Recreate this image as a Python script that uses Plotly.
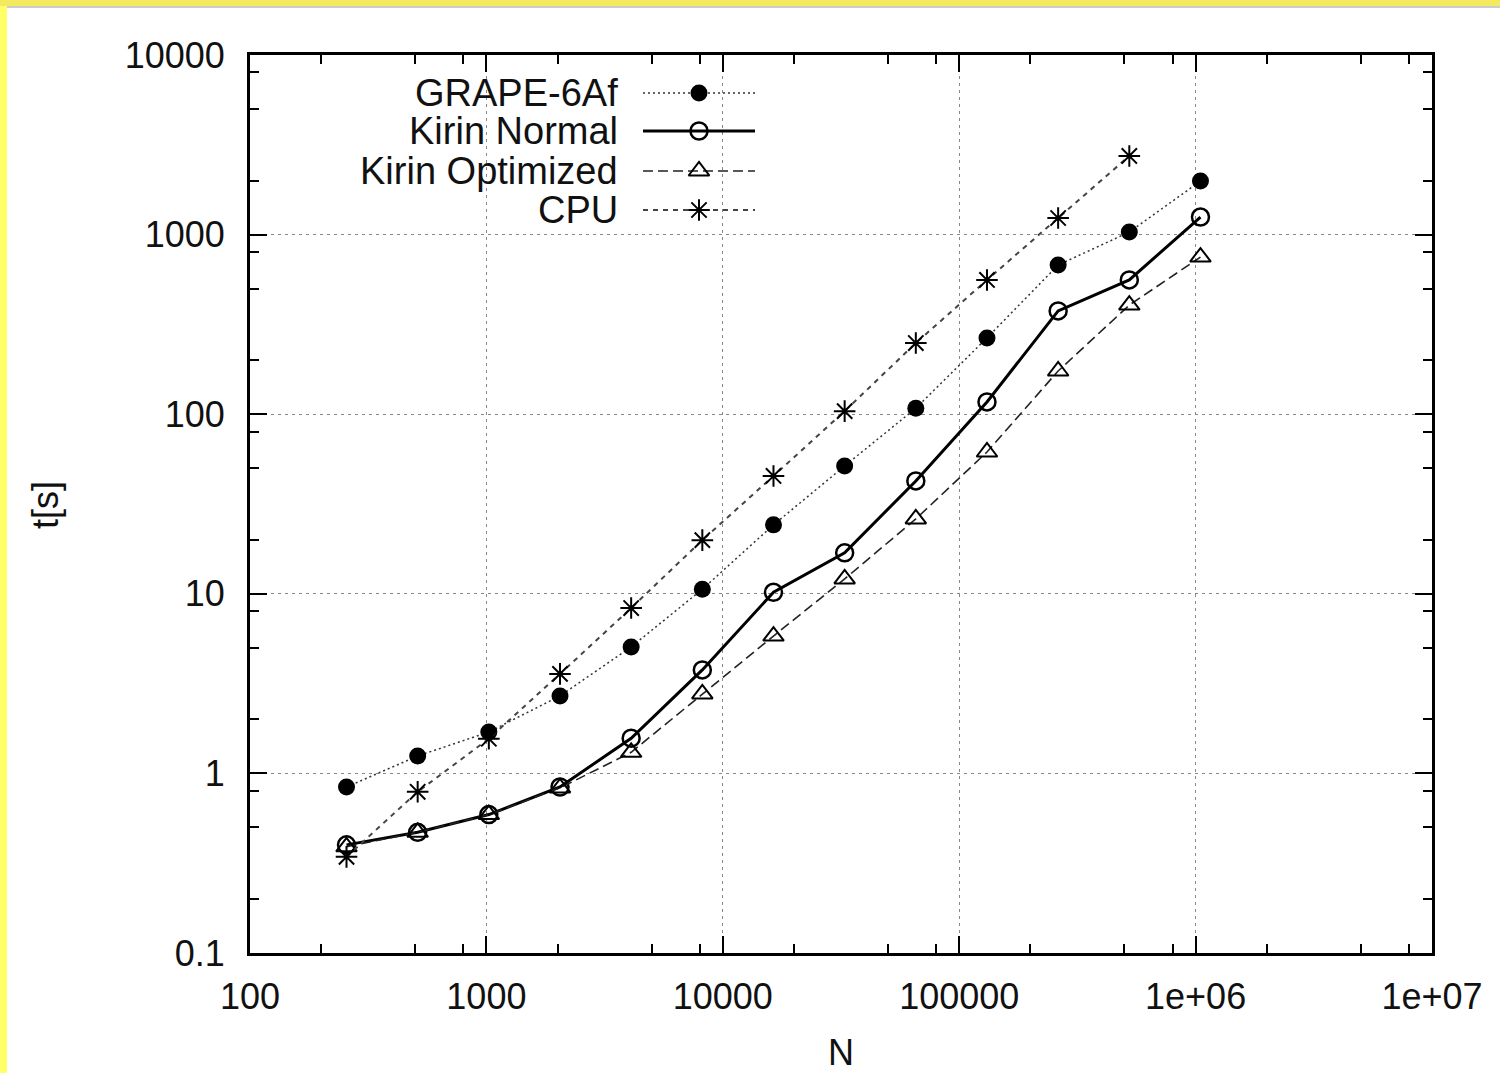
import plotly.graph_objects as go

# ---------------- data ----------------
N = [256, 512, 1024, 2048, 4096, 8192, 16384, 32768, 65536, 131072, 262144, 524288, 1048576]
grape6af = [0.84, 1.25, 1.70, 2.7, 5.06, 10.6, 24.2, 51.5, 108, 266, 677, 1033, 1986]
kirin_normal = [0.40, 0.47, 0.59, 0.84, 1.57, 3.77, 10.2, 16.9, 42.5, 117, 376, 559, 1253]
kirin_optimized = [0.39, 0.47, 0.59, 0.83, 1.31, 2.77, 5.82, 12.1, 26.1, 61.6, 174, 405, 750]
N_cpu = [256, 512, 1024, 2048, 4096, 8192, 16384, 32768, 65536, 131072, 262144, 524288]
cpu = [0.343, 0.79, 1.56, 3.58, 8.33, 19.9, 45.3, 104, 249, 559, 1237, 2741]

series_names = ["GRAPE-6Af", "Kirin Normal", "Kirin Optimized", "CPU"]
x_tickvals = [100, 1000, 10000, 100000, 1000000, 10000000]
x_ticktext = ["100", "1000", "10000", "100000", "1e+06", "1e+07"]
y_tickvals = [0.1, 1, 10, 100, 1000, 10000]
y_ticktext = ["0.1", "1", "10", "100", "1000", "10000"]
x_minor = [m * 10 ** e for e in range(2, 7) for m in (2, 5, 8)]
y_minor = [m * 10.0 ** e for e in range(-1, 4) for m in (2, 5, 8)]

FONT = "Liberation Sans, Arial, Helvetica, sans-serif"
W, H = 1500, 1073
L, R, T, B = 250, 68, 55, 120

styles = {
    "GRAPE-6Af": dict(line=dict(color="#333", width=1.5, dash="2px,3px"),
                      marker=dict(symbol="circle", size=17, color="black")),
    "Kirin Normal": dict(line=dict(color="black", width=3, dash="solid"),
                         marker=dict(symbol="circle-open", size=17, color="black", line=dict(width=2.5))),
    "Kirin Optimized": dict(line=dict(color="#222", width=1.6, dash="10px,5px"),
                            marker=dict(symbol="triangle-up-open", size=18, color="black", line=dict(width=2))),
    "CPU": dict(line=dict(color="#444", width=2, dash="5px,5px"),
                marker=dict(symbol="asterisk-open", size=18, color="black", line=dict(width=2, color="black"))),
}

fig = go.Figure()
data = {
    "GRAPE-6Af": (N, grape6af),
    "Kirin Normal": (N, kirin_normal),
    "Kirin Optimized": (N, kirin_optimized),
    "CPU": (N_cpu, cpu),
}
for name in series_names:
    xs, ys = data[name]
    fig.add_trace(go.Scatter(x=xs, y=ys, mode="lines+markers", name=name,
                             showlegend=False, cliponaxis=False, **styles[name]))

# ------------- gnuplot-style legend (text right, sample on the right) -------------
def px_x(px):
    return (px - L) / (W - L - R)

def px_y(py):
    return (H - B - py) / (H - T - B)

legend_rows = [93, 131, 171, 210]
text_right = 620
line_x0, line_x1, mark_x = 643, 755, 699
annotations = []
shapes = []
for name, ry in zip(series_names, legend_rows):
    annotations.append(dict(x=px_x(text_right), y=px_y(ry), xref="paper", yref="paper",
                            text=name, showarrow=False, xanchor="right", yanchor="middle",
                            font=dict(family=FONT, size=38, color="#111")))
    st = styles[name]
    fig.add_trace(go.Scatter(x=[px_x(line_x0), px_x(mark_x), px_x(line_x1)],
                             y=[px_y(ry)] * 3, mode="lines", xaxis="x2", yaxis="y2",
                             showlegend=False, hoverinfo="skip", line=st["line"]))
    fig.add_trace(go.Scatter(x=[px_x(mark_x)], y=[px_y(ry)], mode="markers", xaxis="x2", yaxis="y2",
                             showlegend=False, hoverinfo="skip", marker=st["marker"]))

# axis titles
annotations.append(dict(x=0.5, y=px_y(1052), xref="paper", yref="paper", text="N", showarrow=False,
                        xanchor="center", yanchor="middle", font=dict(family=FONT, size=36, color="#111")))
annotations.append(dict(x=px_x(45), y=px_y(505), xref="paper", yref="paper", text="t[s]", showarrow=False,
                        textangle=-90, xanchor="center", yanchor="middle",
                        font=dict(family=FONT, size=36, color="#111")))

# yellow frame edges (left and top)
shapes.append(dict(type="rect", xref="paper", yref="paper", x0=px_x(0), x1=px_x(7), y0=px_y(H), y1=px_y(0),
                   fillcolor="#ffff66", line=dict(width=0), layer="above"))
shapes.append(dict(type="rect", xref="paper", yref="paper", x0=px_x(0), x1=px_x(W), y0=px_y(6), y1=px_y(0),
                   fillcolor="#f4ea60", line=dict(width=0), layer="above"))
shapes.append(dict(type="line", xref="paper", yref="paper", x0=px_x(7), x1=px_x(W), y0=px_y(7), y1=px_y(7),
                   line=dict(color="#bbbbbb", width=1.5), layer="above"))

axis_common = dict(
    type="log", showline=True, linecolor="black", linewidth=3, mirror="allticks",
    ticks="inside", ticklen=17, tickwidth=2, tickcolor="black",
    showgrid=True, gridcolor="#888888", gridwidth=1, griddash="3px,4px",
    zeroline=False, tickmode="array",
    tickfont=dict(family=FONT, size=36, color="#111"),
)

fig.update_layout(
    width=W, height=H, margin=dict(l=L, r=R, t=T, b=B),
    paper_bgcolor="white", plot_bgcolor="white",
    xaxis=dict(axis_common, range=[2, 7], tickvals=x_tickvals, ticktext=x_ticktext,
               ticklabelstandoff=10,
               minor=dict(tickmode="array", tickvals=x_minor, ticks="inside", ticklen=9,
                          tickwidth=2, tickcolor="black", showgrid=False)),
    yaxis=dict(axis_common, range=[-1, 4], tickvals=y_tickvals, ticktext=y_ticktext,
               ticklabelstandoff=15,
               minor=dict(tickmode="array", tickvals=y_minor, ticks="inside", ticklen=9,
                          tickwidth=2, tickcolor="black", showgrid=False)),
    xaxis2=dict(overlaying="x", range=[0, 1], visible=False, fixedrange=True),
    yaxis2=dict(overlaying="y", range=[0, 1], visible=False, fixedrange=True),
    annotations=annotations, shapes=shapes, showlegend=False,
)

fig.write_html("out.html")
